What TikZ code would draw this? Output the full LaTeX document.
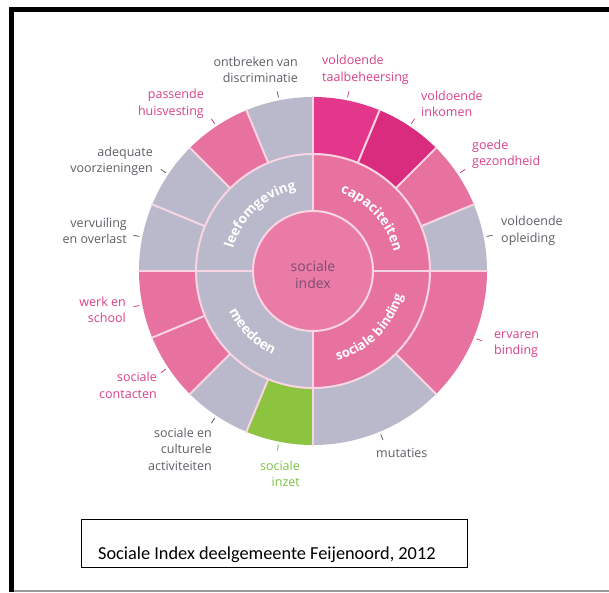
\documentclass[tikz,border=0pt]{standalone}
\usepackage{fontspec}
\setmainfont{Open Sans}
\newfontfamily\capfont{Carlito}
\usetikzlibrary{decorations.text}

\definecolor{pk}{HTML}{E8729F}
\definecolor{pkA}{HTML}{E2378A}
\definecolor{pkB}{HTML}{D92C7E}
\definecolor{gy}{HTML}{B9B9CB}
\definecolor{gn}{HTML}{8CC43F}
\definecolor{ctr}{HTML}{E97BA6}
\definecolor{sep}{HTML}{F9D5E3}
\definecolor{lblgray}{HTML}{5E5E66}
\definecolor{lblpink}{HTML}{D8418A}
\definecolor{lblgreen}{HTML}{7CC242}
\definecolor{ctrtext}{HTML}{7E4D6E}

\tikzset{
  lab/.style={font=\fontsize{12.5}{16.5}\selectfont, inner sep=0pt},
  labr/.style={lab, anchor=east, align=right},
  labl/.style={lab, anchor=west, align=left},
  sepline/.style={draw=sep, line width=2pt},
  tick/.style={line width=0.8pt},
}

\begin{document}
\begin{tikzpicture}[x=1pt,y=1pt]
\useasboundingbox (0,0) rectangle (609,592);
\fill[white] (0,0) rectangle (609,592);
% frame
\fill[black] (9,580) rectangle (609,585);
\fill[black] (9,0) rectangle (14,585);
\draw[black!40, line width=1.5pt] (14,1) -- (609,1);

\begin{scope}[shift={(313,321)}]
  % outer ring sectors
  \foreach \a/\b/\col in {0/22.5/gy, 22.5/45/pk, 45/67.5/pkB, 67.5/90/pkA,
      90/112.5/gy, 112.5/135/pk, 135/157.5/gy, 157.5/180/gy,
      180/202.5/pk, 202.5/225/pk, 225/247.5/gy, 247.5/270/gn,
      270/315/gy, 315/360/pk}
    \fill[\col] (0,0) -- (\a:174) arc[start angle=\a, end angle=\b, radius=174] -- cycle;
  % middle ring quadrants
  \foreach \a/\col in {0/pk, 90/gy, 180/gy, 270/pk}
    \fill[\col] (0,0) -- (\a:117) arc[start angle=\a, delta angle=90, radius=117] -- cycle;
  % centre
  \fill[ctr] (0,0) circle[radius=60];
  % separators
  \foreach \a in {22.5,45,67.5,112.5,135,157.5,202.5,225,247.5,315}
    \draw[sepline] (\a:117) -- (\a:175);
  \foreach \a in {0,90,180,270}
    \draw[sepline] (\a:60) -- (\a:175);
  \draw[sepline] (0,0) circle[radius=117];
  \draw[sepline] (0,0) circle[radius=60];
  % centre label
  \node[font=\fontsize{14}{17}\selectfont, text=ctrtext, align=center, inner sep=0pt] (centre) at (0,-4) {sociale\\index};
  % curved labels
  \path[decorate, decoration={text along path, text align=center,
      text={|\fontsize{13.5}{13.5}\selectfont\bfseries\color{white}|leefomgeving}}]
    (178:83) arc[start angle=178, end angle=88, radius=83];
  \path[decorate, decoration={text along path, text align=center,
      text={|\fontsize{13.5}{13.5}\selectfont\bfseries\color{white}|capaciteiten}}]
    (88:83) arc[start angle=88, end angle=-4, radius=83];
  \path[decorate, decoration={text along path, text align=center,
      text={|\fontsize{13}{13}\selectfont\bfseries\color{white}|sociale binding}}]
    (265:93) arc[start angle=265, end angle=365, radius=93];
  \path[decorate, decoration={text along path, text align=center,
      text={|\fontsize{13.5}{13.5}\selectfont\bfseries\color{white}|meedoen}}]
    (180:93) arc[start angle=180, end angle=270, radius=93];
  % ticks
  \foreach \m/\col in {11.25/lblgray, 33.75/lblpink, 56.25/lblpink, 78.75/lblpink,
      101.25/lblgray, 123.75/lblpink, 146.25/lblgray, 168.75/lblgray,
      191.25/lblpink, 213.75/lblpink, 236.25/lblgray, 258.75/lblgreen,
      292.5/lblgray, 337.5/lblpink}
    \draw[tick, \col] (\m:177) -- (\m:183);
\end{scope}

% outer labels
\node[labr, text=lblgray]  (l1)  at (298,522)   {ontbreken van\\discriminatie};
\node[labl, text=lblpink]  (l2)  at (322,522)   {voldoende\\taalbeheersing};
\node[labr, text=lblpink]  (l3)  at (204,488)   {passende\\huisvesting};
\node[labl, text=lblpink]  (l4)  at (421,488)   {voldoende\\inkomen};
\node[labl, text=lblpink]  (l5)  at (472,437.5) {goede\\gezondheid};
\node[labr, text=lblgray]  (l6)  at (153,430.5) {adequate\\voorzieningen};
\node[labl, text=lblgray]  (l7)  at (501,361)   {voldoende\\opleiding};
\node[labr, text=lblgray]  (l8)  at (127,361)   {vervuiling\\en overlast};
\node[labr, text=lblpink]  (l9)  at (126,282)   {werk en\\school};
\node[labr, text=lblpink]  (l10) at (157,206.5) {sociale\\contacten};
\node[labr, text=lblgray]  (l11) at (212,143)   {sociale en\\culturele\\activiteiten};
\node[labr, text=lblgreen] (l12) at (300,118)   {sociale\\inzet};
\node[labl, text=lblgray]  (l13) at (376,139)   {mutaties};
\node[labl, text=lblpink]  (l14) at (494,247.5) {ervaren\\binding};

% caption
\node[draw=black, line width=1pt, minimum width=386pt, minimum height=48pt, inner sep=0pt] (capbox) at (274,49) {};
\node[anchor=base west, inner sep=0pt, font=\capfont\fontsize{18.3}{20}\selectfont] (captext) at (98,33) {Sociale Index deelgemeente Feijenoord, 2012};
\end{tikzpicture}
\end{document}
